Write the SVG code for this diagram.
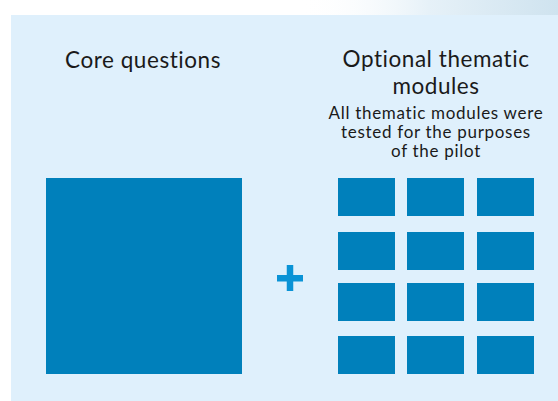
<svg xmlns="http://www.w3.org/2000/svg" width="558" height="401" viewBox="0 0 558 401">
<defs>
<linearGradient id="tex" x1="0" y1="0" x2="1" y2="0">
<stop offset="0" stop-color="#ffffff" stop-opacity="0"/>
<stop offset="0.5" stop-color="#e6f1f8"/>
<stop offset="1" stop-color="#cfe3ef"/>
</linearGradient>
<style>
.t{font-family:Lato,"Noto Sans",sans-serif;fill:#1a1a1a;text-anchor:middle;font-variant-ligatures:none}
.h{font-size:22.5px;letter-spacing:0.55px}
.s{font-size:17px;letter-spacing:0.7px}
.b{fill:#0080bb}
</style>
</defs>
<rect width="558" height="401" fill="#ffffff"/>
<rect x="300" y="0" width="258" height="15" fill="url(#tex)"/>
<rect x="11" y="15" width="547" height="386" fill="#dff0fc"/>
<g id="core">
<text class="t h" x="143" y="68">Core questions</text>
<rect class="b" x="46" y="178" width="196" height="196"/>
</g>
<g id="plus">
<rect x="277" y="275" width="26" height="6.5" fill="#0a93d6"/>
<rect x="286.75" y="265" width="6.5" height="26" fill="#0a93d6"/>
</g>
<g id="modules">
<text class="t h" x="436" y="66.5">Optional thematic</text>
<text class="t h" x="436" y="94">modules</text>
<text class="t s" x="436" y="119">All thematic modules were</text>
<text class="t s" x="436" y="138">tested for the purposes</text>
<text class="t s" x="436" y="157">of the pilot</text>
<rect class="b" x="338" y="178" width="57" height="38"/>
<rect class="b" x="407" y="178" width="57" height="38"/>
<rect class="b" x="477" y="178" width="57" height="38"/>
<rect class="b" x="338" y="232" width="57" height="38"/>
<rect class="b" x="407" y="232" width="57" height="38"/>
<rect class="b" x="477" y="232" width="57" height="38"/>
<rect class="b" x="338" y="283" width="57" height="38"/>
<rect class="b" x="407" y="283" width="57" height="38"/>
<rect class="b" x="477" y="283" width="57" height="38"/>
<rect class="b" x="338" y="336" width="57" height="38"/>
<rect class="b" x="407" y="336" width="57" height="38"/>
<rect class="b" x="477" y="336" width="57" height="38"/>
</g>
<g id="connectors"/>
</svg>
